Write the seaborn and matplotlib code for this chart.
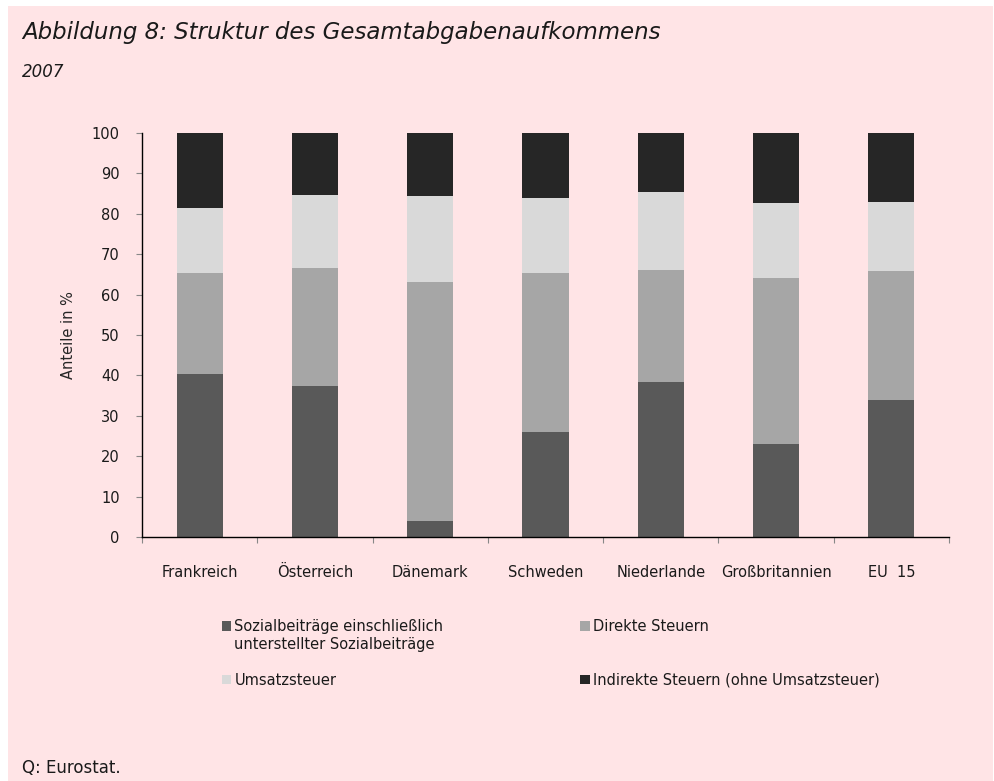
import matplotlib
matplotlib.use("Agg")
import matplotlib.pyplot as plt
from matplotlib.patches import Rectangle, Patch
import numpy as np
import pandas as pd
import seaborn as sns

# Anteile am Gesamtabgabenaufkommen 2007 (in %)
laender = ["Frankreich", "Österreich", "Dänemark", "Schweden",
           "Niederlande", "Großbritannien", "EU  15"]
sozialbeitraege = [40.4, 37.4, 3.9, 26.0, 38.3, 22.9, 33.8]
direkte_steuern = [24.9, 29.3, 59.3, 39.3, 27.9, 41.3, 32.0]
umsatzsteuer = [16.2, 18.0, 21.1, 18.5, 19.2, 18.4, 17.2]
indirekte_steuern = [18.5, 15.3, 15.7, 16.2, 14.6, 17.4, 17.0]

reihen = [
    ("Sozialbeiträge einschließlich", sozialbeitraege, "#595959"),
    ("Direkte Steuern", direkte_steuern, "#a6a6a6"),
    ("Umsatzsteuer", umsatzsteuer, "#d9d9d9"),
    ("Indirekte Steuern (ohne Umsatzsteuer)", indirekte_steuern, "#262626"),
]

HINTERGRUND = "#ffe4e6"
W, H = 995, 781

sns.set_theme(style="ticks")
plt.rcParams["font.family"] = ["DejaVu Sans"]
plt.rcParams["text.color"] = "#1a1a1a"

fig = plt.figure(figsize=(W / 100, H / 100), dpi=100, facecolor="white")
fig.patches.append(Rectangle((8 / W, 0), 985 / W, 1 - 6 / H,
                             transform=fig.transFigure, facecolor=HINTERGRUND,
                             edgecolor="none", zorder=-10))

ax = fig.add_axes([142 / W, 1 - 537 / H, 807 / W, 404 / H])
ax.set_facecolor("none")

# Gestapelte Säulen: kumulierte Summen, von oben nach unten überzeichnet
werte = np.array([r[1] for r in reihen])
kumuliert = np.cumsum(werte, axis=0)
df = pd.DataFrame({"Land": laender})
for i in range(len(reihen) - 1, -1, -1):
    df["wert"] = kumuliert[i]
    sns.barplot(data=df, x="Land", y="wert", color=reihen[i][2], saturation=1,
                width=0.4, errorbar=None, linewidth=0, ax=ax)

ax.set_xlim(-0.5, len(laender) - 0.5)
ax.set_ylim(0, 100)
ax.set_yticks(np.arange(0, 101, 10))
ax.set_xlabel("")
ax.set_ylabel("Anteile in %", fontsize=10.5, labelpad=11)

for side in ("top", "right"):
    ax.spines[side].set_visible(False)
for side in ("left", "bottom"):
    ax.spines[side].set_color("black")
    ax.spines[side].set_linewidth(1.0)

ax.tick_params(axis="y", length=4, width=0.8, color="#888888", pad=12,
               labelsize=10.5, labelcolor="#1a1a1a")
ax.tick_params(axis="x", which="major", length=0, pad=20,
               labelsize=10.5, labelcolor="#1a1a1a")
ax.set_xticks(np.arange(-0.5, len(laender), 1.0), minor=True)
ax.tick_params(axis="x", which="minor", length=4, width=0.8, color="#888888")

fig.text(22 / W, 1 - 33 / H, "Abbildung 8: Struktur des Gesamtabgabenaufkommens",
         fontsize=16.5, style="italic", ha="left", va="center")
fig.text(22 / W, 1 - 72 / H, "2007", fontsize=12, style="italic",
         ha="left", va="center")
fig.text(22 / W, 1 - 768 / H, "Q: Eurostat.", fontsize=12,
         ha="left", va="center")

griffe = [Patch(facecolor=reihen[i][2], edgecolor="none", label=reihen[i][0])
          for i in (0, 2, 1, 3)]
fig.legend(handles=griffe, ncol=2, loc="upper left",
           bbox_to_anchor=(222 / W, 1 - 619 / H), frameon=False,
           fontsize=10.5, handlelength=0.65, handleheight=0.65,
           handletextpad=0.2, columnspacing=9.4, labelspacing=2.65,
           borderaxespad=0, borderpad=0)
# zweite Zeile der Beschriftung für die Sozialbeiträge
fig.text(234 / W, 1 - 645 / H, "unterstellter Sozialbeiträge", fontsize=10.5,
         ha="left", va="center")

fig.savefig("out.png", dpi=100, facecolor=fig.get_facecolor())
